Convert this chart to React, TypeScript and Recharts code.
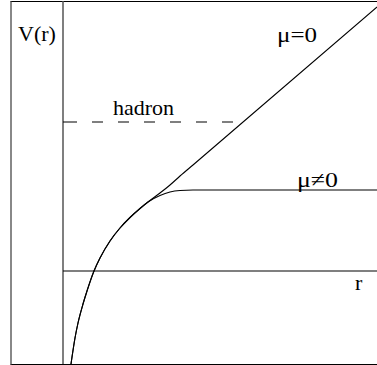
import { LineChart, Line, XAxis, YAxis, ReferenceLine } from "recharts";

// r values and the two potentials
const rValues = [0.08, 0.12, 0.15, 0.2, 0.24, 0.31, 0.37, 0.47, 0.57, 0.67, 0.77, 0.85, 0.97, 1.07, 1.17, 1.3, 3.14];
const vMuZero = [-0.93, -0.67, -0.52, -0.33, -0.2, 0.0, 0.13, 0.3, 0.43, 0.535, 0.625, 0.69, 0.78, 0.86, 0.95, 1.06, 2.64];
const vMuNonZero = [-0.93, -0.67, -0.52, -0.33, -0.2, 0.0, 0.13, 0.3, 0.43, 0.535, 0.625, 0.69, 0.755, 0.79, 0.805, 0.81, 0.81];

// hadron threshold (dashed)
const hadronLevel = 1.49;
const hadronEnd = 1.77;

const labels = [
    { text: "V(r)", x: 18, y: 41 },
    { text: "hadron", x: 113, y: 115 },
    { text: "\u03bc=0", x: 277, y: 42, len: 40 },
    { text: "\u03bc\u22600", x: 297, y: 187, len: 41 },
    { text: "r", x: 355, y: 290 },
];

const data = rValues.map((r, i) => ({ r, mu0: vMuZero[i], mu1: vMuNonZero[i] }));

export default function App() {
    return (
        <div style={{ position: "absolute", left: 0, top: 0, width: 377, height: 365, overflow: "hidden", background: "#fff" }}>
            <div
                style={{
                    position: "absolute", left: 10, top: 1, width: 400, height: 364, boxSizing: "border-box",
                    borderLeft: "2px solid #888", borderTop: "1px solid #000", borderBottom: "1px solid #000",
                }}
            />
            <div style={{ position: "absolute", left: 0, top: 0 }}>
                <LineChart width={377} height={365} data={data} margin={{ top: 1, right: 0, left: 63, bottom: 1 }}>
                    <XAxis type="number" dataKey="r" domain={[0, 3.14]} hide />
                    <YAxis type="number" domain={[-0.93, 2.7]} hide />
                    <ReferenceLine x={0} stroke="#555" strokeWidth={1.5} />
                    <ReferenceLine y={0} stroke="#000" strokeWidth={1.2} />
                    <ReferenceLine
                        segment={[{ x: 0, y: hadronLevel }, { x: hadronEnd, y: hadronLevel }]}
                        stroke="#000"
                        strokeWidth={1.2}
                        strokeDasharray="14 15 11 15 11 15 11 15 11 15 11 15 11 15"
                    />
                    <Line type="monotone" dataKey="mu0" stroke="#000" strokeWidth={1.1} dot={false} isAnimationActive={false} />
                    <Line type="monotone" dataKey="mu1" stroke="#000" strokeWidth={1.1} dot={false} isAnimationActive={false} />
                </LineChart>
            </div>
            <svg width={377} height={365} style={{ position: "absolute", left: 0, top: 0, pointerEvents: "none" }}>
                {labels.map((l) => (
                    <text
                        key={l.text}
                        x={l.x}
                        y={l.y}
                        textLength={l.len}
                        lengthAdjust={l.len ? "spacingAndGlyphs" : undefined}
                        fontFamily="'Liberation Serif', 'Times New Roman', serif"
                        fontSize={22}
                        fill="#000"
                    >
                        {l.text}
                    </text>
                ))}
            </svg>
        </div>
    );
}
